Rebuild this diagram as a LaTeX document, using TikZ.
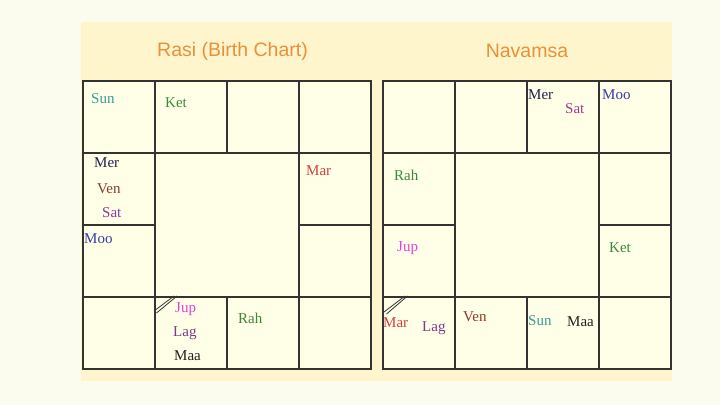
\documentclass[tikz,border=0pt]{standalone}
\usepackage{fontspec}
\setmainfont{Liberation Serif}
\newfontfamily\titlefont{Liberation Sans}
\definecolor{pagebg}{HTML}{FCFCEE}
\definecolor{panelbg}{HTML}{FFF5CC}
\definecolor{cellbg}{HTML}{FFFFE8}
\definecolor{gridline}{HTML}{333333}
\definecolor{titleor}{HTML}{E8903A}
\definecolor{pteal}{HTML}{3A9A9A}
\definecolor{pgreen}{HTML}{3A8A3A}
\definecolor{pnavy}{HTML}{202050}
\definecolor{pbrown}{HTML}{8A3A2A}
\definecolor{ppurple}{HTML}{8A3A9A}
\definecolor{pblue}{HTML}{3A3AAA}
\definecolor{pred}{HTML}{D04040}
\definecolor{pmagenta}{HTML}{E040E0}
\definecolor{plag}{HTML}{7A3A8A}
\definecolor{pblack}{HTML}{202020}
\definecolor{psat}{HTML}{A03A8A}
\begin{document}
\begin{tikzpicture}[x=1pt,y=-1pt,
  planet/.style={anchor=base west,inner sep=0pt,font=\fontsize{15}{15}\selectfont},
  chartline/.style={draw=gridline,line width=1.3pt},
  charttitle/.style={font=\titlefont\fontsize{19.5}{20}\selectfont,text=titleor}]
\useasboundingbox (0,0) rectangle (720,405);
\fill[pagebg] (0,0) rectangle (720,405);
\fill[panelbg] (81,22) rectangle (672,381);
% charts
\foreach \ox in {83,383}{
  \fill[cellbg] (\ox,81) rectangle ++(288,288);
  \draw[chartline] (\ox,81) rectangle ++(288,288);
  \draw[chartline] (\ox,153) -- ++(288,0);
  \draw[chartline] (\ox,297) -- ++(288,0);
  \draw[chartline] (\ox+72,81) -- ++(0,288);
  \draw[chartline] (\ox+216,81) -- ++(0,288);
  \draw[chartline] (\ox,225) -- ++(72,0);
  \draw[chartline] (\ox+216,225) -- ++(72,0);
  \draw[chartline] (\ox+144,81) -- ++(0,72);
  \draw[chartline] (\ox+144,297) -- ++(0,72);
}
% lagna marks
\draw[gridline,line width=0.8pt] (154,311) -- (174,296) (156.5,313) -- (177,296);
\draw[gridline,line width=0.8pt] (384,312) -- (405,296) (386.5,314) -- (407.5,296);
% titles
\node[charttitle] (t1) at (232.5,51) {Rasi (Birth Chart)};
\node[charttitle] (t2) at (527,51) {Navamsa};
% Rasi
\node[planet,text=pteal] (rsun) at (91,103) {Sun};
\node[planet,text=pgreen] (rket) at (165,107) {Ket};
\node[planet,text=pnavy] (rmer) at (94,167) {Mer};
\node[planet,text=pbrown] (rven) at (97,193) {Ven};
\node[planet,text=ppurple] (rsat) at (102,217) {Sat};
\node[planet,text=pblue] (rmoo) at (84,243) {Moo};
\node[planet,text=pred] (rmar) at (306,175) {Mar};
\node[planet,text=pmagenta] (rjup) at (175,312) {Jup};
\node[planet,text=plag] (rlag) at (173,336) {Lag};
\node[planet,text=pblack] (rmaa) at (174,360) {Maa};
\node[planet,text=pgreen] (rrah) at (238,323) {Rah};
% Navamsa
\node[planet,text=pnavy] (nmer) at (528,99) {Mer};
\node[planet,text=psat] (nsat) at (565,113) {Sat};
\node[planet,text=pblue] (nmoo) at (602,99) {Moo};
\node[planet,text=pgreen] (nrah) at (394,180) {Rah};
\node[planet,text=pmagenta] (njup) at (397,251) {Jup};
\node[planet,text=pgreen] (nket) at (609,252) {Ket};
\node[planet,text=pred] (nmar) at (383,327) {Mar};
\node[planet,text=plag] (nlag) at (422,331) {Lag};
\node[planet,text=pbrown] (nven) at (463,321) {Ven};
\node[planet,text=pteal] (nsun) at (528,325) {Sun};
\node[planet,text=pblack] (nmaa) at (567,326) {Maa};
\end{tikzpicture}
\end{document}
